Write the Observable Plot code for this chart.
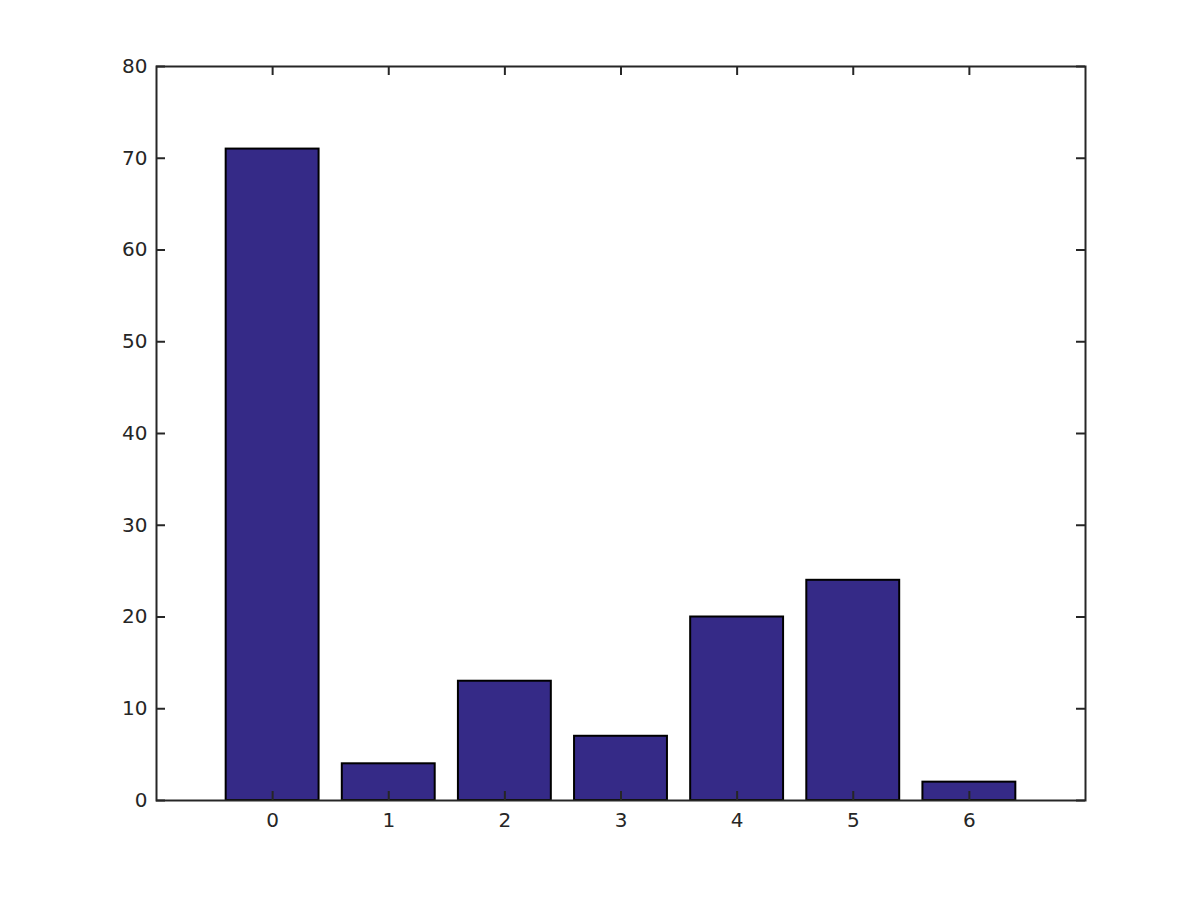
<!DOCTYPE html>
<html>
<head>
<meta charset="utf-8">
<script src="https://cdn.jsdelivr.net/npm/d3@7"></script>
<script src="https://cdn.jsdelivr.net/npm/@observablehq/plot@0.6"></script>
<style>
  html, body { margin: 0; padding: 0; background: #fff; }
  #chart { width: 1200px; height: 900px; }
</style>
</head>
<body>
<div id="chart"></div>
<script>
const categories = [0, 1, 2, 3, 4, 5, 6];
const counts = [71, 4, 13, 7, 20, 24, 2];
const xTicks = [0, 1, 2, 3, 4, 5, 6];
const yTicks = [0, 10, 20, 30, 40, 50, 60, 70, 80];

const data = categories.map((c, i) => ({cat: c, count: counts[i]}));

const W = 1200, H = 900;
const mL = 156, mR = 115, mT = 66, mB = 100;
const plotW = W - mL - mR, plotH = H - mT - mB;
const tickLen = 9;
const axisColor = "#262626";
const barWidth = 0.8;

const chart = Plot.plot({
  width: W,
  height: H,
  marginLeft: mL,
  marginRight: mR,
  marginTop: mT,
  marginBottom: mB,
  style: {fontFamily: "DejaVu Sans", fontSize: "20px", color: axisColor, background: "#fff"},
  x: {domain: [-1, 7], ticks: xTicks, label: null},
  y: {domain: [0, 80], ticks: yTicks, label: null},
  marks: [
    Plot.rectY(data, {
      x1: d => d.cat - barWidth / 2,
      x2: d => d.cat + barWidth / 2,
      y1: 0,
      y2: "count",
      fill: "#352a87",
      stroke: "#000",
      strokeWidth: 2
    }),
    // inward ticks bottom & top
    Plot.ruleX(xTicks, {stroke: axisColor, strokeWidth: 2, insetTop: plotH - tickLen}),
    Plot.ruleX(xTicks, {stroke: axisColor, strokeWidth: 2, insetBottom: plotH - tickLen}),
    // inward ticks left & right
    Plot.ruleY(yTicks, {stroke: axisColor, strokeWidth: 2, insetRight: plotW - tickLen}),
    Plot.ruleY(yTicks, {stroke: axisColor, strokeWidth: 2, insetLeft: plotW - tickLen}),
    Plot.frame({stroke: axisColor, strokeWidth: 2}),
    Plot.axisX({ticks: xTicks, tickSize: 0, tickPadding: 12, label: null, fontSize: 20, fill: axisColor}),
    Plot.axisY({ticks: yTicks, tickSize: 0, tickPadding: 9, label: null, fontSize: 20, fill: axisColor})
  ]
});
document.getElementById("chart").appendChild(chart);
</script>
</body>
</html>
